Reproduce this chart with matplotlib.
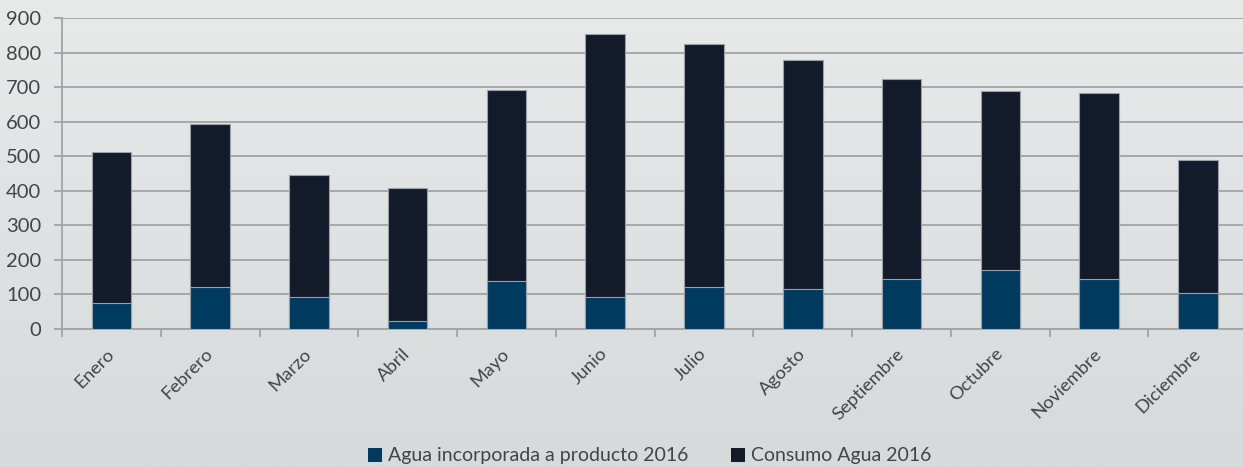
import numpy as np
import matplotlib.pyplot as plt
from matplotlib.patches import Patch

meses = ['Enero', 'Febrero', 'Marzo', 'Abril', 'Mayo', 'Junio', 'Julio',
         'Agosto', 'Septiembre', 'Octubre', 'Noviembre', 'Diciembre']
agua_producto = [74, 121, 92, 23, 139, 92, 122, 115, 146, 172, 145, 103]
consumo_total = [513, 593, 446, 409, 691, 853, 825, 777, 722, 688, 682, 489]

azul = '#003a5f'
oscuro = '#131a2a'
gris_texto = '#444444'

plt.rcParams['font.family'] = ['Lato', 'DejaVu Sans']

fig = plt.figure(figsize=(12.43, 4.67), dpi=100)

# fondo degradado
bg = fig.add_axes([0, 0, 1, 1], zorder=-10)
grad = np.linspace(0, 1, 256).reshape(-1, 1)
bg.imshow(grad, aspect='auto', cmap=plt.matplotlib.colors.LinearSegmentedColormap.from_list(
    'g', ['#e8eaea', '#d6dadb']), extent=[0, 1, 0, 1])
bg.axis('off')

ax = fig.add_axes([0.0499, 0.2955, 0.9535, 0.666])
ax.set_facecolor('none')

x = np.arange(len(meses))
ancho = 0.4
ax.bar(x, consumo_total, ancho, color=oscuro, edgecolor='#9aa0a8', linewidth=0.8, zorder=3)
ax.bar(x, agua_producto, ancho, color=azul, edgecolor='#9aa0a8', linewidth=0.8, zorder=4)

ax.set_xlim(-0.5, len(meses) - 0.5)
ax.set_ylim(0, 900)
ax.set_yticks(range(0, 901, 100))
ax.yaxis.grid(True, color='#a3a3a3', linewidth=1.3, zorder=0)
ax.set_axisbelow(True)

for s in ['top', 'right']:
    ax.spines[s].set_visible(False)
for s in ['left', 'bottom']:
    ax.spines[s].set_color('#a3a3a3')
    ax.spines[s].set_linewidth(1.3)

ax.set_xticks(x)
ax.set_xticklabels(meses, rotation=45, ha='right', va='center', rotation_mode='anchor')
ax.set_xticks(np.arange(-0.5, len(meses), 1), minor=True)
ax.tick_params(axis='x', which='major', length=0, pad=16, labelsize=13.3, labelcolor=gris_texto)
ax.tick_params(axis='x', which='minor', length=6, width=1.3, color='#a3a3a3')
ax.tick_params(axis='y', length=6, width=1.3, color='#a3a3a3', labelsize=14.5,
               labelcolor=gris_texto, pad=9)

handles = [Patch(facecolor=azul, label='Agua incorporada a producto 2016'),
           Patch(facecolor=oscuro, label='Consumo Agua 2016')]
fig.legend(handles=handles, loc='lower center', bbox_to_anchor=(0.523, -0.032), ncol=2,
           frameon=False, handlelength=0.72, handleheight=0.72, handletextpad=0.3,
           columnspacing=2.2, prop={'size': 14}, labelcolor=gris_texto)

fig.savefig('out.png', dpi=100)
